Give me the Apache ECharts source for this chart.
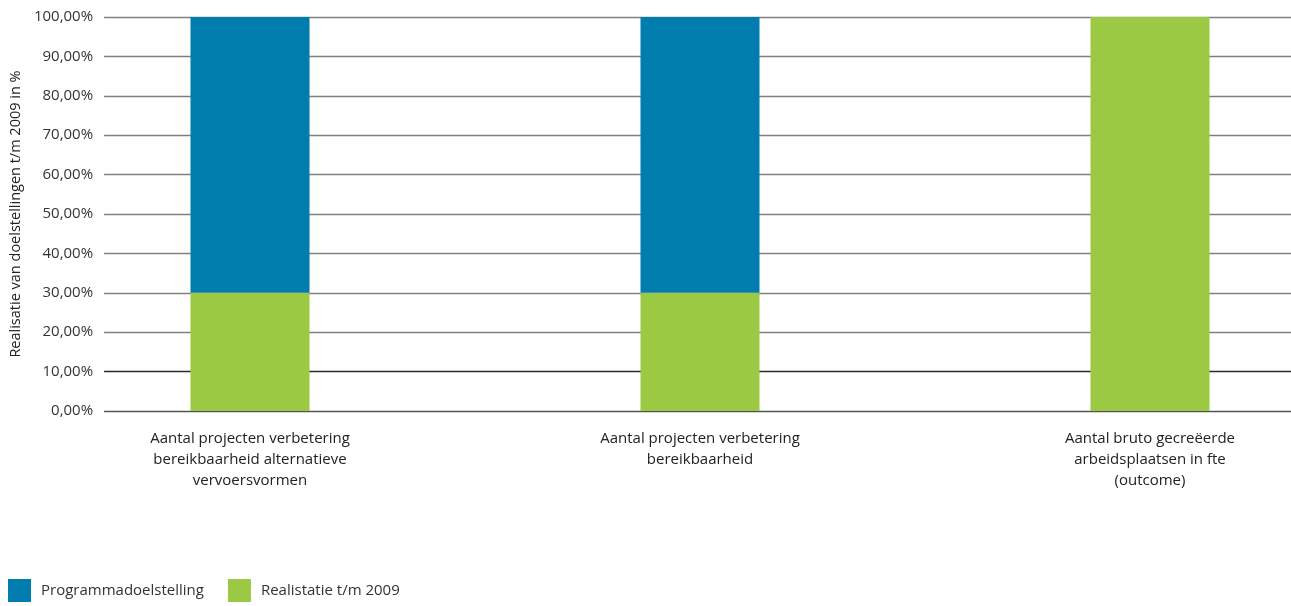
<!DOCTYPE html>
<html><head><meta charset="utf-8">
<script src="https://cdn.jsdelivr.net/npm/echarts@6/dist/echarts.min.js"></script>
<style>html,body{margin:0;padding:0;background:#fff;overflow:hidden;width:1291px;height:606px}#c{width:1375px;height:606px}</style>
</head><body><div id="c"></div>
<script>
const categories = [
  'Aantal projecten verbetering\nbereikbaarheid alternatieve\nvervoersvormen',
  'Aantal projecten verbetering\nbereikbaarheid',
  'Aantal bruto gecreëerde\narbeidsplaatsen in fte\n(outcome)'
];
const realisatie = [30, 30, 100];
const programmadoelstelling = [70, 70, 0];
const seriesNames = ['Programmadoelstelling', 'Realistatie t/m 2009'];
const yAxisName = 'Realisatie van doelstellingen t/m 2009 in %';

const FONT = 'Open Sans';
const chart = echarts.init(document.getElementById('c'), null, {renderer: 'canvas'});
chart.setOption({
  animation: false,
  textStyle: {fontFamily: FONT},
  color: ['#007DAE', '#9BC943'],
  legend: {
    left: 8, top: 579, padding: 0, itemWidth: 23, itemHeight: 23, itemGap: 24,
    icon: 'rect',
    data: seriesNames,
    textStyle: {fontFamily: FONT, fontSize: 15, color: '#333', padding: [14, 0, 0, 5]}
  },
  grid: [
    {left: 100, right: 84, top: 17, height: 394},
    {left: 25, right: 0, top: 17, height: 394}
  ],
  xAxis: [
    {gridIndex: 0, type: 'value', show: false, min: 0, max: 1},
    {gridIndex: 1, type: 'category', data: categories,
      axisLine: {show: false}, axisTick: {show: false},
      axisLabel: {fontFamily: FONT, fontSize: 15, color: '#222', lineHeight: 21, margin: 17, interval: 0}}
  ],
  yAxis: [
    {gridIndex: 0, type: 'value', min: 0, max: 100, interval: 10,
      name: yAxisName, nameLocation: 'middle', nameGap: 80, nameRotate: 90,
      nameTextStyle: {fontFamily: FONT, fontSize: 14.5, color: '#222'},
      axisLine: {show: false}, axisTick: {show: false},
      axisLabel: {fontFamily: FONT, fontSize: 15, color: '#333', margin: 11,
        formatter: v => v.toFixed(2).replace('.', ',') + '%'},
      splitLine: {show: true, lineStyle: {width: 1.3,
        color: ['#555', '#2a2a2a', '#808080', '#808080', '#808080', '#808080', '#808080', '#808080', '#808080', '#808080', '#808080']}}
    },
    {gridIndex: 1, type: 'value', min: 0, max: 100, show: false}
  ],
  series: [
    {name: seriesNames[1], type: 'bar', stack: 's', xAxisIndex: 1, yAxisIndex: 1,
      barWidth: 119, data: realisatie, itemStyle: {color: '#9BC943'}},
    {name: seriesNames[0], type: 'bar', stack: 's', xAxisIndex: 1, yAxisIndex: 1,
      barWidth: 119, data: programmadoelstelling, itemStyle: {color: '#007DAE'}}
  ]
});
</script></body></html>
